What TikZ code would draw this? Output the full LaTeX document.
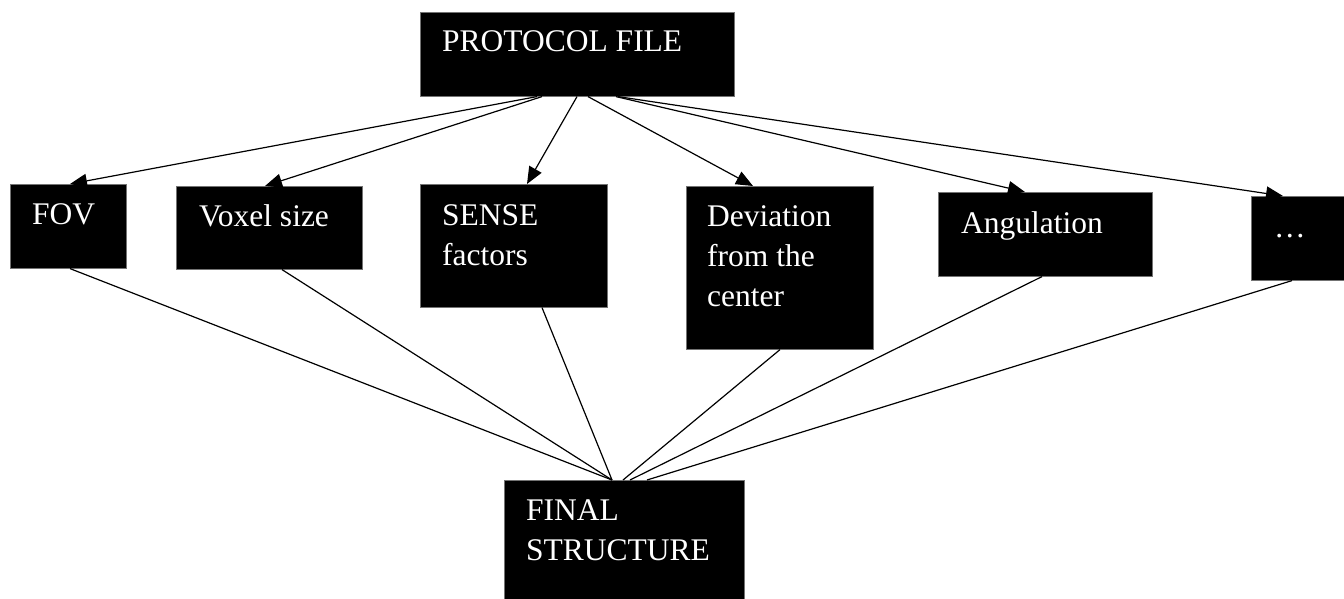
\documentclass[tikz,border=0pt]{standalone}
\usepackage{fontspec}
\setmainfont{Liberation Serif}
\usetikzlibrary{arrows.meta,calc}
\tikzset{
  box/.style={fill=black, draw=black!55, line width=0.6pt, inner sep=0pt, anchor=north west},
  lbl/.style={text=white, anchor=base west, align=left, inner sep=0pt,
              font=\fontsize{31.5}{40}\selectfont},
  feed/.style={line width=1.2pt, -{Triangle[length=17pt,width=14pt]}},
  merge/.style={line width=1.2pt},
}
\begin{document}
\begin{tikzpicture}[x=1pt,y=-1pt]
\useasboundingbox (0,0) rectangle (1344,599);

% boxes
\node[box, minimum width=314pt, minimum height=84pt]  (proto) at (420,12)  {};
\node[box, minimum width=116pt, minimum height=84pt]  (fov)   at (10,184)  {};
\node[box, minimum width=186pt, minimum height=83pt]  (voxel) at (176,186) {};
\node[box, minimum width=187pt, minimum height=123pt] (sense) at (420,184) {};
\node[box, minimum width=187pt, minimum height=163pt] (dev)   at (686,186) {};
\node[box, minimum width=214pt, minimum height=84pt]  (ang)   at (938,192) {};
\node[box, minimum width=100pt, minimum height=84pt]  (more)  at (1251,196) {};
\node[box, minimum width=240pt, minimum height=130pt] (final) at (504,480) {};

% labels (base anchor sits on the last line of a multi-line label)
\node[lbl] (protot) at ($(proto.north west)+(22,40)$)  {PROTOCOL FILE};
\node[lbl] (fovt)   at ($(fov.north west)+(22,40)$)    {FOV};
\node[lbl] (voxelt) at ($(voxel.north west)+(23,40)$)  {Voxel size};
\node[lbl] (senset) at ($(sense.north west)+(22,81)$)  {SENSE\\factors};
\node[lbl] (devt)   at ($(dev.north west)+(21,120)$)   {Deviation\\from the\\center};
\node[lbl] (angt)   at ($(ang.north west)+(23,41)$)    {Angulation};
\node[lbl] (moret)  at ($(more.north west)+(23,41)$)   {…};
\node[lbl] (finalt) at ($(final.north west)+(22,80)$)  {FINAL\\STRUCTURE};

% protocol file feeds each parameter
\draw[feed] ($(proto.south west)+(117,0)$) -- ($(fov.north west)+(60,0)$);
\draw[feed] ($(proto.south west)+(122,0)$) -- ($(voxel.north west)+(89,0)$);
\draw[feed] ($(proto.south west)+(157,0)$) -- ($(sense.north west)+(107,0)$);
\draw[feed] ($(proto.south west)+(168,0)$) -- ($(dev.north west)+(67,0)$);
\draw[feed] ($(proto.south west)+(196,0)$) -- ($(ang.north west)+(87,0)$);
\draw[feed] ($(proto.south west)+(198,0)$) -- ($(more.north west)+(32,0)$);

% parameters merge into the final structure
\draw[merge] ($(fov.south west)+(60,0)$)    -- ($(final.north west)+(108,0)$);
\draw[merge] ($(voxel.south west)+(106,0)$) -- ($(final.north west)+(108,0)$);
\draw[merge] ($(sense.south west)+(122,0)$) -- ($(final.north west)+(108,0)$);
\draw[merge] ($(dev.south west)+(94,0)$)    -- ($(final.north west)+(119,0)$);
\draw[merge] ($(ang.south west)+(104,0)$)   -- ($(final.north west)+(126,0)$);
\draw[merge] ($(more.south west)+(41,0)$)   -- ($(final.north west)+(143,0)$);
\end{tikzpicture}
\end{document}
